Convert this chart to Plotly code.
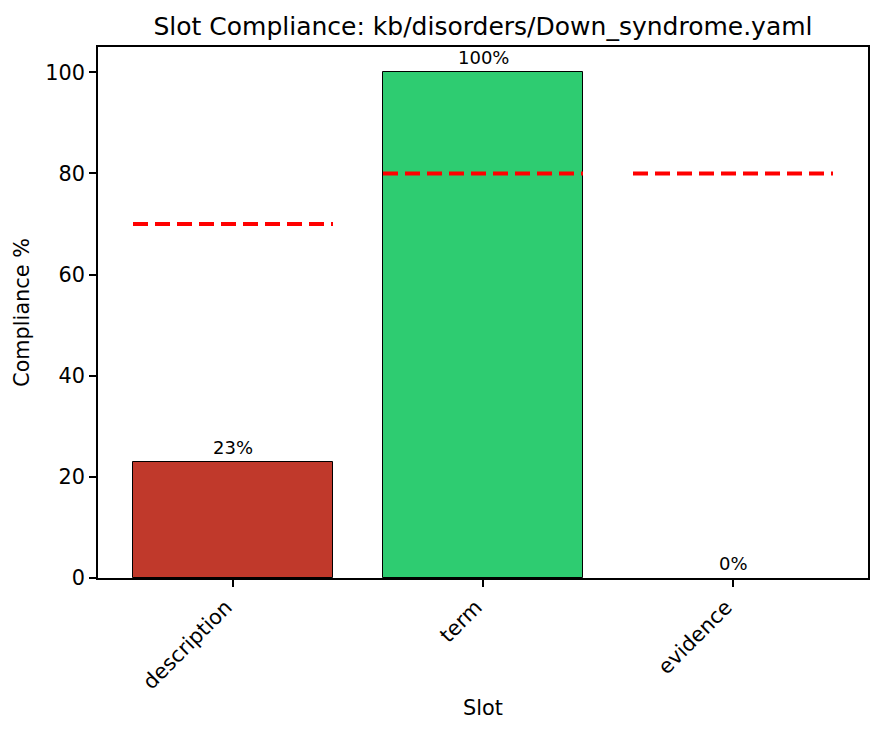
import plotly.graph_objects as go

# Werte
slots = ["description", "term", "evidence"]
compliance = [23, 100, 0]
thresholds = [70, 80, 80]
bar_colors = ["#c0392b", "#2ecc71", "#c0392b"]
value_labels = ["23%", "100%", "0%"]

pos = list(range(len(slots)))
bar_w = 0.8

fig = go.Figure()

fig.add_trace(go.Bar(
    x=pos, y=compliance, width=bar_w,
    marker=dict(color=bar_colors,
                line=dict(color="black", width=[1, 1, 0])),
    showlegend=False, hoverinfo="skip",
))

# Schwellenwert-Linien je Slot (gestrichelt, rot)
for p, t in zip(pos, thresholds):
    fig.add_trace(go.Scatter(
        x=[p - bar_w / 2, p + bar_w / 2], y=[t, t], mode="lines",
        line=dict(color="red", width=4, dash="15px,7px"),
        showlegend=False, hoverinfo="skip",
    ))

# Prozent-Beschriftung über den Balken
for p, v, lab in zip(pos, compliance, value_labels):
    fig.add_annotation(
        x=p, y=v, text=lab, showarrow=False, yshift=2,
        yanchor="bottom", font=dict(size=18, color="black"),
    )

# Seite hat 8px Body-Rand -> Figur etwas kleiner
W, H = 875, 725
L, R, T, B = 90, 15, 39, 155
fig.update_layout(
    width=W, height=H,
    margin=dict(l=L, r=R, t=T, b=B),
    plot_bgcolor="white", paper_bgcolor="white",
    font=dict(family="DejaVu Sans", size=20.8, color="black"),
    title=dict(text="Slot Compliance: kb/disorders/Down_syndrome.yaml",
               x=(L + W - R) / 2 / W, xanchor="center",
               y=0.975, yanchor="middle",
               font=dict(size=25)),
    bargap=0,
)

fig.update_xaxes(
    range=[-0.54, 2.54], tickvals=pos, ticktext=slots, tickangle=-45,
    ticklabelshift=-7,
    showline=True, linecolor="black", linewidth=1.6, mirror=True,
    ticks="outside", ticklen=7, tickwidth=1.6, tickcolor="black",
    showgrid=False, zeroline=False, automargin=False,
    title=dict(text="Slot", font=dict(size=20.8), standoff=7),
)
fig.update_yaxes(
    range=[0, 105], tickvals=[0, 20, 40, 60, 80, 100],
    showline=True, linecolor="black", linewidth=1.6, mirror=True,
    ticks="outside", ticklen=7, tickwidth=1.6, tickcolor="black",
    showgrid=False, zeroline=False, automargin=False,
    title=dict(text="Compliance %", font=dict(size=20.8), standoff=10),
)

fig.write_html("out.html")
